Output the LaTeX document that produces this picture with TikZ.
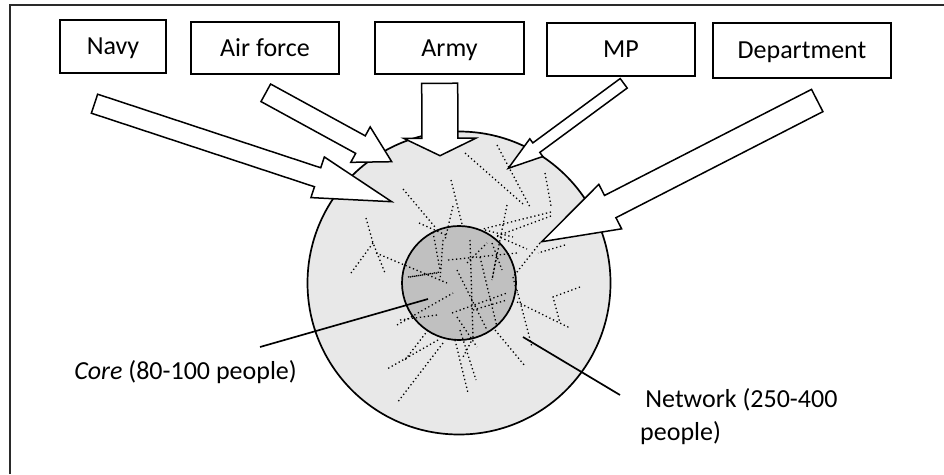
\documentclass[tikz,border=0pt]{standalone}
\usepackage{fontspec}
\setmainfont{Carlito}
\usetikzlibrary{calc}
\definecolor{cNet}{HTML}{E8E8E8}
\definecolor{cCore}{HTML}{C0C0C0}
\definecolor{cFrame}{HTML}{2A2A2A}
\tikzset{
  unitbox/.style={
    draw, line width=1.6pt, fill=white, inner sep=0pt,
    text height=23.4pt, text depth=6.7pt,
    font=\fontsize{26}{31}\selectfont,
  },
  blockarr/.style={
    draw, line width=1.5pt, fill=white, line join=miter,
  },
  netlink/.style={
    line width=1.3pt, dash pattern=on 1.3pt off 2.7pt,
  },
  callout/.style={
    line width=1.7pt,
  },
  lbl/.style={
    inner sep=0pt, font=\fontsize{26}{33}\selectfont,
  },
}

% block arrow: tail, tip, half shaft width, half head width, head length
\newcommand{\blockarrow}[5]{%
  \coordinate (#1-neck) at ($(#2)!#5!(#1)$);
  \draw[blockarr] ($(#1)!#3!90:(#2)$) -- ($(#1-neck)!#3!90:(#2)$)
    -- ($(#1-neck)!#4!90:(#2)$) -- (#2)
    -- ($(#1-neck)!#4!-90:(#2)$) -- ($(#1-neck)!#3!-90:(#2)$)
    -- ($(#1)!#3!-90:(#2)$) -- cycle;
}

\begin{document}
\begin{tikzpicture}[x=1pt, y=-1pt]
\useasboundingbox (0,0) rectangle (944,474);

% ── frame ──
\draw[cFrame, line width=2.5pt] (10,474) -- (10,5) -- (944,5);

% ── network and core ──
\node[circle, draw, line width=1.7pt, fill=cNet, minimum size=303, inner sep=0pt] (network) at (459,283) {};
\node[circle, draw, line width=1.7pt, fill=cCore, minimum size=114, inner sep=0pt] (core) at (459,283) {};

% ── informal ties ──
\draw[netlink]
  (465,153) -- (523,204)  (497,145) -- (530,207)  (545,173) -- (551,206)
  (451,180) -- (462,224)  (403,189) -- (435,227)  (419,223) -- (448,236)
  (453,206) -- (445,240)  (507,205) -- (492,280)  (551,212) -- (483,229)
  (551,216) -- (497,236)  (497,236) -- (527,249)  (565,245) -- (538,253)
  (540,243) -- (513,277)  (366,218) -- (373,243) -- (385,273)
  (373,243) -- (351,273)  (376,253) -- (447,283)  (408,277) -- (437,273)
  (580,287) -- (553,297) -- (560,323)  (517,302) -- (570,328)
  (517,290) -- (532,347)  (495,330) -- (525,366)  (443,343) -- (397,403)
  (438,340) -- (387,369)  (428,330) -- (405,360)  (455,340) -- (468,393)
  (460,330) -- (476,380)  (473,338) -- (463,357)  (397,325) -- (453,293)
  (400,320) -- (437,315)
  (443,240) -- (440,280)  (448,260) -- (517,253)  (470,240) -- (473,337)
  (480,257) -- (497,327)  (457,270) -- (487,330)  (452,313) -- (507,293)
  (467,263) -- (487,243)  (410,277) -- (440,272)  (492,243) -- (502,270)
  (513,277) -- (517,293)  (497,253) -- (492,280)  (457,317) -- (477,347)
  (473,310) -- (507,300)  (485,230) -- (513,237)  (433,232) -- (440,270);

% ── inflows ──
\coordinate (navyTail) at (94.5,103.7);   \coordinate (navyTip) at (391.7,201.7);
\coordinate (airTail)  at (265.8,92.8);   \coordinate (airTip)  at (391.7,161.7);
\coordinate (armyTail) at (439.7,83.3);   \coordinate (armyTip) at (440,155.7);
\coordinate (mpTail)   at (623.7,83.3);   \coordinate (mpTip)   at (508.3,168.3);
\coordinate (deptTail) at (817.2,100.5);  \coordinate (deptTip) at (541.7,241.7);

\blockarrow{navyTail}{navyTip}{10pt}{21.4pt}{78pt}
\blockarrow{airTail}{airTip}{10pt}{20.2pt}{35.6pt}
\blockarrow{armyTail}{armyTip}{18pt}{36pt}{17.4pt}
\blockarrow{mpTail}{mpTip}{5.9pt}{11pt}{34.8pt}
\blockarrow{deptTail}{deptTip}{12.5pt}{25pt}{77pt}

% ── sources ──
\node[unitbox, minimum width=106, minimum height=53] (navy)     at (113,46.5) {Navy};
\node[unitbox, minimum width=148, minimum height=52] (airforce) at (265,48)   {Air force};
\node[unitbox, minimum width=149, minimum height=52] (army)     at (449.5,48) {Army};
\node[unitbox, minimum width=148, minimum height=53] (mp)       at (621,49.5) {MP};
\node[unitbox, minimum width=178, minimum height=55] (dept)     at (802,50.5) {Department};

% ── labels ──
\node[lbl, anchor=base east] (coreLabel) at (297,379.5) {\textit{Core} (80-100 people)};
\node[lbl, anchor=north west, align=left] (netLabel) at (640,388)
  {\hspace*{0.2em}Network (250-400\\people)};

\coordinate (coreTip) at (428,299);  \coordinate (coreFoot) at (260,347);
\coordinate (netTip)  at (523,337);  \coordinate (netFoot)  at (620,395);
\draw[callout] (coreTip) -- (coreFoot);
\draw[callout] (netTip) -- (netFoot);

\end{tikzpicture}
\end{document}
